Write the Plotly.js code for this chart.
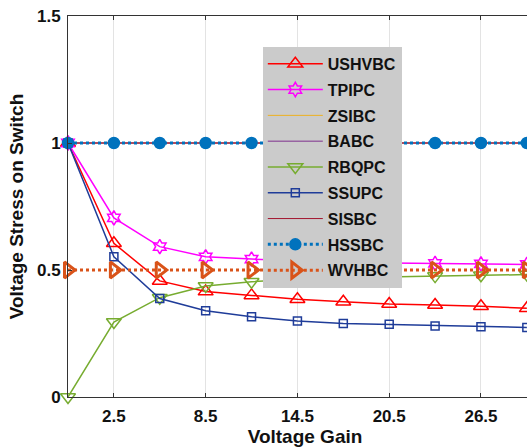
<!DOCTYPE html>
<html>
<head>
<meta charset="utf-8">
<script src="https://cdn.plot.ly/plotly-3.0.1.min.js"></script>
<style>
  html, body { margin: 0; padding: 0; overflow: hidden; background: #fff; }
  #chart { width: 542px; height: 447px; }
</style>
</head>
<body>
<div id="chart"></div>
<script>
// Categories (voltage gain points) and tick labels
const gain = ['1', '2.5', '5.5', '8.5', '11.5', '14.5', '17.5', '20.5', '23.5', '26.5', '29.5'];
const tickLabels = ['2.5', '8.5', '14.5', '20.5', '26.5'];

// Series values (voltage stress on switch, normalized)
const USHVBC = [1.0, 0.605, 0.457, 0.415, 0.40, 0.385, 0.375, 0.366, 0.362, 0.357, 0.349];
const TPIPC  = [1.0, 0.705, 0.592, 0.552, 0.543, 0.536, 0.531, 0.528, 0.526, 0.524, 0.522];
const ZSIBC  = [1, 1, 1, 1, 1, 1, 1, 1, 1, 1, 1];
const BABC   = [1, 1, 1, 1, 1, 1, 1, 1, 1, 1, 1];
const RBQPC  = [0.0, 0.295, 0.391, 0.437, 0.454, 0.464, 0.469, 0.473, 0.476, 0.479, 0.482];
const SSUPC  = [1.0, 0.552, 0.388, 0.340, 0.316, 0.299, 0.289, 0.286, 0.280, 0.277, 0.274];
const SISBC  = [1, 1, 1, 1, 1, 1, 1, 1, 1, 1, 1];
const HSSBC  = [1, 1, 1, 1, 1, 1, 1, 1, 1, 1, 1];
const WVHBC  = [0.5, 0.5, 0.5, 0.5, 0.5, 0.5, 0.5, 0.5, 0.5, 0.5, 0.5];

function tr(name, y, color, opts) {
  const t = {
    type: 'scatter', x: gain, y: y, name: name, legendgroup: name,
    cliponaxis: false,
    mode: opts.symbol ? 'lines+markers' : 'lines',
    line: { color: color, width: opts.width || 1.5, dash: opts.dash || 'solid' }
  };
  if (opts.symbol) {
    t.marker = {
      symbol: opts.symbol, size: opts.size, color: color,
      line: { color: color, width: opts.mlw || 1.5 }
    };
  }
  return t;
}

const data = [
  tr('USHVBC', USHVBC, '#FF0000', { symbol: 'triangle-up-open', size: 13 }),
  tr('TPIPC',  TPIPC,  '#FF00FF', { symbol: 'hexagram-open', size: 11 }),
  tr('ZSIBC',  ZSIBC,  '#EDB120', { width: 1 }),
  tr('BABC',   BABC,   '#7E2F8E', { width: 1 }),
  tr('RBQPC',  RBQPC,  '#77AC30', { symbol: 'triangle-down-open', size: 13 }),
  tr('SSUPC',  SSUPC,  '#1F3C99', { symbol: 'square-open', size: 8 }),
  tr('SISBC',  SISBC,  '#A2142F', { width: 1 }),
  tr('HSSBC',  HSSBC,  '#0072BD', { symbol: 'circle', size: 11, width: 3, dash: 'dot' }),
  tr('WVHBC',  WVHBC,  '#D95319', { symbol: 'triangle-right-open', size: 14, width: 3, dash: 'dot', mlw: 3 })
];

const fontFam = 'Liberation Sans, Arial, sans-serif';
const txt = '#111111';

const layout = {
  width: 542, height: 447,
  margin: { l: 68, r: 0, t: 16, b: 50 },
  paper_bgcolor: '#ffffff', plot_bgcolor: '#ffffff',
  font: { family: fontFam, color: '#000000' },
  showlegend: true,
  legend: {
    x: 0.411, y: 0.919, xanchor: 'left', yanchor: 'top',
    bgcolor: '#cbcbcb', borderwidth: 0,
    font: { family: fontFam, size: 16, color: txt, weight: 'bold' },
    tracegroupgap: 2, itemwidth: 55
  },
  xaxis: {
    type: 'category', range: [0, 10.33],
    tickmode: 'array', tickvals: tickLabels, ticktext: tickLabels,
    showgrid: true, gridcolor: '#e3e3e3', gridwidth: 1,
    showline: true, linecolor: '#333333', linewidth: 1, mirror: 'ticks',
    ticks: 'inside', ticklen: 4, tickcolor: '#333333',
    zeroline: false, ticklabelstandoff: 4,
    tickfont: { family: fontFam, size: 17, color: txt, weight: 'bold' },
    title: { text: 'Voltage Gain', font: { family: fontFam, size: 19, color: txt, weight: 'bold' }, standoff: 4 }
  },
  yaxis: {
    range: [0, 1.5],
    tickmode: 'array', tickvals: [0, 0.5, 1, 1.5], ticktext: ['0', '0.5', '1', '1.5'],
    showgrid: false,
    showline: true, linecolor: '#333333', linewidth: 1,
    ticks: 'inside', ticklen: 4, tickcolor: '#333333',
    zeroline: false, ticklabelstandoff: 3,
    tickfont: { family: fontFam, size: 17, color: txt, weight: 'bold' },
    title: { text: 'Voltage Stress on Switch', font: { family: fontFam, size: 19, color: txt, weight: 'bold' }, standoff: 8 }
  }
};

Plotly.newPlot('chart', data, layout, { displayModeBar: false, staticPlot: true });
</script>
</body>
</html>
